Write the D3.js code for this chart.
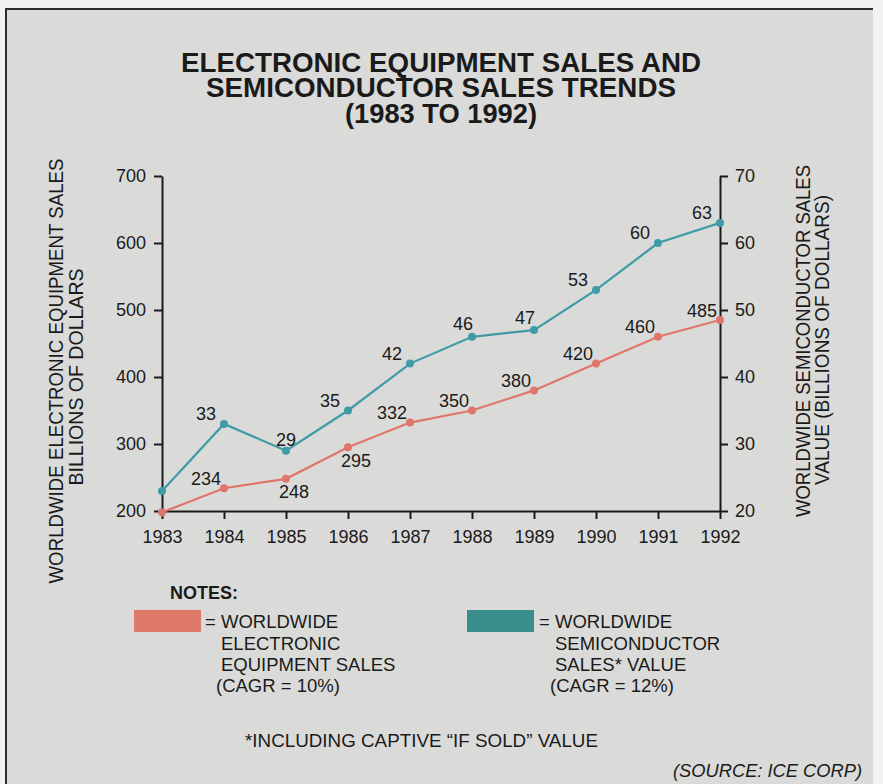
<!DOCTYPE html>
<html>
<head>
<meta charset="utf-8">
<script src="https://cdn.jsdelivr.net/npm/d3@7"></script>
<style>
  body { margin: 0; background: #f3f1f1; }
  svg { display: block; font-family: "Liberation Sans", Arial, sans-serif; }
</style>
</head>
<body>
<div id="chart"></div>
<script>
// data
const years = [1983, 1984, 1985, 1986, 1987, 1988, 1989, 1990, 1991, 1992];
const electronicSales = [198, 234, 248, 295, 332, 350, 380, 420, 460, 485];   // left axis, $B
const semiSales = [23, 33, 29, 35, 42, 46, 47, 53, 60, 63];                    // right axis, $B
const leftTicks = [200, 300, 400, 500, 600, 700];
const rightTicks = [20, 30, 40, 50, 60, 70];
// where each value label sits next to its point ("" = no label)
const electronicLabelPos = ["", "ul", "b", "b", "ul", "ul", "ul", "ul", "ul", "ul"];
const semiLabelPos = ["", "ul", "u", "ul", "ul", "uu", "uu", "ul", "ul", "ul"];

const titleLines = ["ELECTRONIC EQUIPMENT SALES AND", "SEMICONDUCTOR SALES TRENDS", "(1983 TO 1992)"];
const leftAxisTitle = ["WORLDWIDE ELECTRONIC EQUIPMENT SALES", "BILLIONS OF DOLLARS"];
const rightAxisTitle = ["WORLDWIDE SEMICONDUCTOR SALES", "VALUE (BILLIONS OF DOLLARS)"];
const legendElectronic = ["WORLDWIDE", "ELECTRONIC", "EQUIPMENT SALES", "(CAGR = 10%)"];
const legendSemi = ["WORLDWIDE", "SEMICONDUCTOR", "SALES* VALUE", "(CAGR = 12%)"];

const W = 883, H = 784;
const redLine = "#e0766b", tealLine = "#3f9ba6";
const redSwatch = "#df7a6b", tealSwatch = "#3a8f8c";
const ink = "#1a1a1a";

const svg = d3.select("#chart").append("svg")
  .attr("width", W).attr("height", H);

// paper + frame
svg.append("rect").attr("x", 6).attr("y", 9).attr("width", 867).attr("height", H)
  .attr("fill", "#dadbd9");
svg.append("path").attr("d", "M6,784 L6,9 L873,9")
  .attr("fill", "none").attr("stroke", "#2e2e2e").attr("stroke-width", 2);

// title (one text, three tspans)
const titleY = [72, 97, 123], titleW = [520, 470, 192];
svg.append("text")
  .attr("text-anchor", "middle")
  .attr("font-size", 27).attr("font-weight", "bold").attr("fill", ink)
  .selectAll("tspan").data(titleLines).enter().append("tspan")
  .attr("x", 441).attr("y", (d, i) => titleY[i])
  .attr("textLength", (d, i) => titleW[i]).attr("lengthAdjust", "spacingAndGlyphs")
  .text(d => d);

// scales
const x = d3.scaleLinear().domain([1983, 1992]).range([162, 720]);
const yLeft = d3.scaleLinear().domain([200, 700]).range([511, 176]);
const yRight = d3.scaleLinear().domain([20, 70]).range([511, 176]);

// axes
function styleAxis(g) {
  g.select(".domain").attr("stroke", ink).attr("stroke-width", 2);
  g.selectAll(".tick line").attr("stroke", ink).attr("stroke-width", 2);
  g.selectAll(".tick text").attr("font-size", 18).attr("fill", ink)
    .attr("font-family", "'Liberation Sans', Arial, sans-serif");
}

svg.append("g")
  .attr("transform", "translate(0,511)")
  .call(d3.axisBottom(x).tickValues(years).tickFormat(d3.format("d"))
    .tickSize(8).tickSizeOuter(0).tickPadding(11))
  .call(styleAxis);

svg.append("g")
  .attr("transform", "translate(162,0)")
  .call(d3.axisLeft(yLeft).tickValues(leftTicks).tickSize(8).tickSizeOuter(0).tickPadding(8))
  .call(styleAxis);

svg.append("g")
  .attr("transform", "translate(720,0)")
  .call(d3.axisRight(yRight).tickValues(rightTicks).tickSize(8).tickSizeOuter(0).tickPadding(7))
  .call(styleAxis);

// axis titles (rotated)
function axisTitle(lines, baselines, centers, lengths) {
  lines.forEach((t, i) => {
    svg.append("text")
      .attr("transform", `translate(${baselines[i]},${centers[i]}) rotate(-90)`)
      .attr("text-anchor", "middle")
      .attr("font-size", 19.5).attr("fill", ink)
      .attr("textLength", lengths[i]).attr("lengthAdjust", "spacingAndGlyphs")
      .text(t);
  });
}
axisTitle(leftAxisTitle, [63, 83], [371, 377], [425, 217]);
axisTitle(rightAxisTitle, [810, 829], [341, 340], [352, 290]);

// lines, points, value labels
const series = [
  { values: electronicSales, y: yLeft, color: redLine, pos: electronicLabelPos },
  { values: semiSales, y: yRight, color: tealLine, pos: semiLabelPos }
];

const offsets = { ul: [-18, -10], uu: [-9, -13], u: [0, -11], b: [8, 13] };

series.forEach(s => {
  const pts = years.map((yr, i) => ({ year: yr, value: s.values[i], pos: s.pos[i] }));

  const line = d3.line()
    .x(d => x(d.year))
    .y(d => s.y(d.value));

  svg.append("path")
    .datum(pts)
    .attr("d", line)
    .attr("fill", "none")
    .attr("stroke", s.color)
    .attr("stroke-width", 2.2);

  svg.selectAll(null).data(pts).enter().append("circle")
    .attr("cx", d => x(d.year))
    .attr("cy", d => s.y(d.value))
    .attr("r", 4)
    .attr("fill", s.color);

  svg.selectAll(null).data(pts.filter(d => d.pos !== "")).enter()
    .append("text")
    .attr("x", d => x(d.year) + offsets[d.pos][0])
    .attr("y", d => s.y(d.value) + offsets[d.pos][1])
    .attr("dy", "0.36em")
    .attr("text-anchor", "middle")
    .attr("font-size", 18).attr("fill", ink)
    .text(d => d.value);
});

// notes / legend
svg.append("text").attr("x", 170).attr("y", 599)
  .attr("font-size", 18).attr("font-weight", "bold").attr("fill", ink)
  .attr("textLength", 68).attr("lengthAdjust", "spacingAndGlyphs")
  .text("NOTES:");

const legendBase = [628, 650, 671, 692];
function legendBlock(x0, color, lines, textX, eqX) {
  svg.append("rect").attr("x", x0).attr("y", 610).attr("width", 67).attr("height", 22)
    .attr("fill", color);
  svg.append("text").attr("x", eqX).attr("y", legendBase[0])
    .attr("font-size", 18.5).attr("fill", ink).text("=");
  lines.forEach((t, i) => {
    svg.append("text")
      .attr("x", i === 3 ? textX - 5 : textX)
      .attr("y", legendBase[i])
      .attr("font-size", 18.5).attr("fill", ink)
      .text(t);
  });
}
legendBlock(134, redSwatch, legendElectronic, 221, 205);
legendBlock(467, tealSwatch, legendSemi, 555, 539);

// footnote and source
svg.append("text").attr("x", 245).attr("y", 747)
  .attr("font-size", 18.5).attr("fill", ink)
  .attr("textLength", 353).attr("lengthAdjust", "spacingAndGlyphs")
  .text("*INCLUDING CAPTIVE \u201CIF SOLD\u201D  VALUE");

svg.append("text").attr("x", 862).attr("y", 777)
  .attr("text-anchor", "end")
  .attr("font-size", 18.5).attr("font-style", "italic").attr("fill", ink)
  .attr("textLength", 189).attr("lengthAdjust", "spacingAndGlyphs")
  .text("(SOURCE: ICE CORP)");
</script>
</body>
</html>
